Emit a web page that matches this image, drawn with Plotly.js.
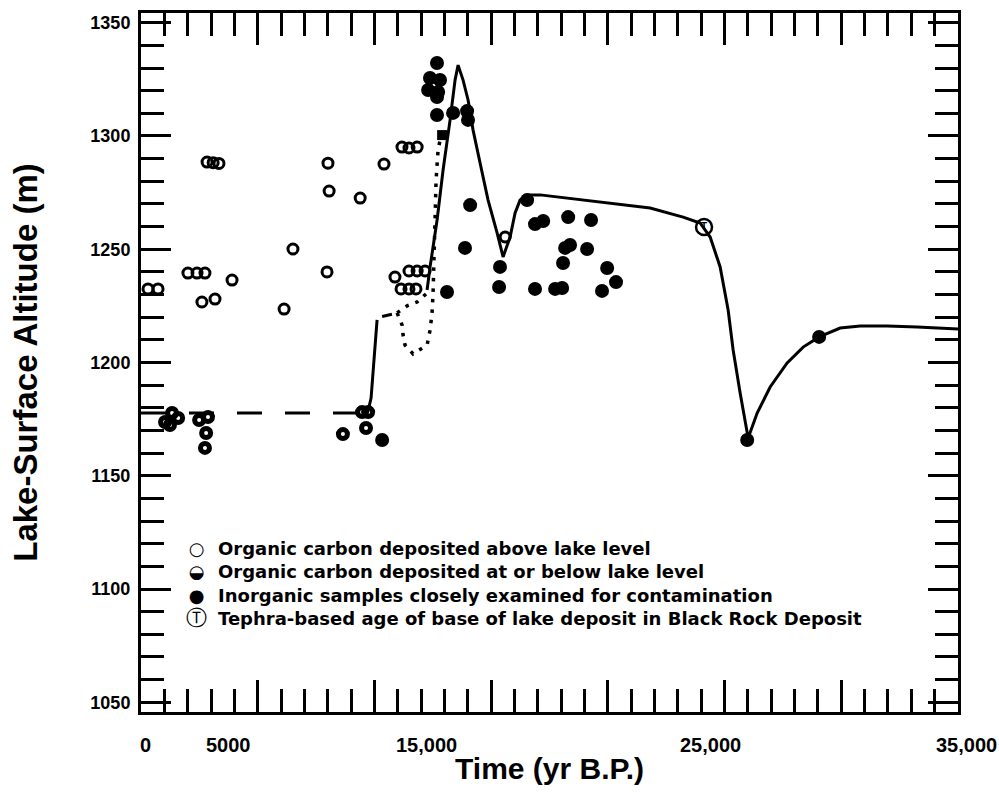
<!DOCTYPE html>
<html>
<head>
<meta charset="utf-8">
<script src="https://cdn.plot.ly/plotly-3.0.1.min.js"></script>
<style>html,body{margin:0;padding:0;background:#fff;}#chart{width:999px;height:806px;}</style>
</head>
<body>
<div id="chart"></div>
<script>
// ---- Data (years B.P., lake-surface altitude m) ----
const organicAboveX = [300, 730, 2010, 2400, 2740, 2610, 3170, 3900, 2830, 3090, 3340, 8010, 8060, 9390, 10410, 11180, 11480, 11830, 6510, 6130, 7970, 10880, 11480, 11830, 12170, 11140, 11480, 11780, 15600];
const organicAboveY = [1232.5, 1232.5, 1239.5, 1239.5, 1239.5, 1226.7, 1228, 1236.4, 1288.5, 1288.2, 1287.9, 1288, 1275.7, 1272.6, 1287.6, 1295.1, 1294.7, 1295.1, 1250.1, 1223.6, 1240, 1237.7, 1240.4, 1240.4, 1240.4, 1232.5, 1232.5, 1232.5, 1255.4];

const organicBelowX = [1030, 1330, 1590, 1240, 2490, 2870, 2790, 2740, 8650, 9470, 9730, 9640];
const organicBelowY = [1173.7, 1177.7, 1175.5, 1172.4, 1174.6, 1175.9, 1168.9, 1162.3, 1168.4, 1178.1, 1178.1, 1171.1];

const inorganicX = [12680, 12380, 12810, 12300, 12730, 12680, 12680, 13370, 13970, 14010, 14100, 13880, 13110, 16540, 16880, 17230, 18300, 19280, 18170, 18380, 19110, 18080, 19970, 20350, 15380, 15340, 16880, 17740, 18040, 19750, 10330, 25970, 29050];
const inorganicY = [1332.2, 1325.6, 1324.7, 1320.3, 1319.4, 1317.2, 1309.3, 1310.2, 1311.0, 1307.1, 1269.5, 1250.6, 1231.1, 1271.7, 1261.1, 1262.5, 1264.2, 1262.9, 1250.6, 1251.9, 1250.1, 1243.9, 1241.7, 1235.5, 1242.2, 1233.3, 1232.5, 1232.5, 1232.9, 1231.6, 1165.8, 1165.8, 1211.3];

const tephraX = [24120];
const tephraY = [1259.8];

const squareX = [12900];
const squareY = [1300.4];

// lake-level curves
const dashedX = [0, 9470];
const dashedY = [1177.7, 1177.7];
const stepX = [9470, 9727, 9856, 9941, 10027, 10113];
const stepY = [1177.7, 1178.6, 1184.3, 1194.5, 1207.7, 1218.8];
const shortX = [10330, 10750];
const shortY = [1220.3, 1221.3];
const dotAX = [10970, 11398, 11827, 12255];
const dotAY = [1221.9, 1225.0, 1226.7, 1230.7];
const dotBX = [10970, 11184, 11227, 11312, 11655, 12255, 12384, 12469, 12512, 12555, 12598, 12641, 12727, 12855];
const dotBY = [1221.9, 1216.6, 1212.1, 1207.7, 1203.8, 1207.7, 1214.3, 1221.9, 1230.7, 1245.3, 1262.9, 1280.6, 1293.8, 1300.4];
const curveX = [12255, 12384, 12684, 12941, 13241, 13455, 13584, 13798, 14012, 14226, 14526, 14869, 15255, 15512, 15812, 16026, 16240, 16583, 17097, 19668, 21811, 23225, 23953, 24382, 24810, 25153, 25367, 25667, 25967, 26010, 26396, 26953, 27681, 28367, 29053, 29952, 30809, 31966, 33252, 35000];
const curveY = [1232.0, 1242.2, 1262.9, 1285.0, 1307.1, 1324.7, 1331.3, 1324.7, 1315.9, 1302.6, 1288.1, 1271.7, 1257.2, 1246.6, 1255.4, 1266.0, 1271.7, 1274.0, 1274.0, 1270.9, 1268.2, 1264.2, 1261.6, 1255.4, 1242.2, 1223.2, 1205.5, 1186.5, 1168.9, 1166.7, 1177.7, 1189.2, 1199.8, 1206.8, 1211.3, 1215.2, 1216.1, 1216.1, 1215.7, 1214.8];

// tick labels
const xTickLabels = ['0', '5000', '15,000', '25,000', '35,000'];
const xTickPos = [0.005, 0.1065, 0.350, 0.6965, 1.011];
const yTickVals = [1050, 1100, 1150, 1200, 1250, 1300, 1350];

// legend
const legendNames = [
  'Organic carbon deposited above lake level',
  'Organic carbon deposited at or below lake level',
  'Inorganic samples closely examined for contamination',
  'Tephra-based age of base of lake deposit in Black Rock Deposit'
];
const legendGlyphs = ['\u25CB', '\u25D2', '\u25CF', '<span style="font-size:21px">\u24C9</span>'];

const FONT = 'Liberation Sans, Arial, sans-serif';
const LEGEND_FONT = 'DejaVu Sans, sans-serif';
const lineStyle = {color: '#000', width: 3};

const traces = [
  {x: dashedX, y: dashedY, mode: 'lines', line: {color: '#000', width: 3, dash: '25px,23px'}, showlegend: false, hoverinfo: 'skip'},
  {x: stepX, y: stepY, mode: 'lines', line: lineStyle, showlegend: false, hoverinfo: 'skip'},
  {x: shortX, y: shortY, mode: 'lines', line: lineStyle, showlegend: false, hoverinfo: 'skip'},
  {x: dotAX, y: dotAY, mode: 'lines', line: {color: '#000', width: 3.5, dash: '3.5px,7px'}, showlegend: false, hoverinfo: 'skip'},
  {x: dotBX, y: dotBY, mode: 'lines', line: {color: '#000', width: 3.5, dash: '3.5px,7px'}, showlegend: false, hoverinfo: 'skip'},
  {x: curveX, y: curveY, mode: 'lines', line: lineStyle, showlegend: false, hoverinfo: 'skip'},
  {x: squareX, y: squareY, mode: 'markers', marker: {symbol: 'square', size: 10, color: '#000'}, showlegend: false},
  {x: organicAboveX, y: organicAboveY, mode: 'markers', name: legendNames[0], showlegend: false,
   marker: {symbol: 'circle-open', size: 10, color: '#000', line: {width: 3, color: '#000'}}},
  {x: organicBelowX, y: organicBelowY, mode: 'markers', name: legendNames[1], showlegend: false,
   marker: {symbol: 'circle-open', size: 9, color: '#000', line: {width: 5, color: '#000'}}},
  {x: inorganicX, y: inorganicY, mode: 'markers', name: legendNames[2], showlegend: false,
   marker: {symbol: 'circle', size: 14, color: '#000'}},
  {x: tephraX, y: tephraY, mode: 'markers', name: legendNames[3], showlegend: false,
   marker: {symbol: 'circle-open', size: 16, color: '#000', line: {width: 2.5, color: '#000'}}},
  {x: tephraX, y: tephraY, mode: 'text', text: ['T'], textposition: 'middle center',
   textfont: {family: FONT, size: 10, color: '#000', weight: 'bold'}, showlegend: false, hoverinfo: 'skip'}
];

const annotations = [];
xTickLabels.forEach((t, i) => annotations.push({
  text: t, xref: 'paper', yref: 'paper', x: xTickPos[i], y: -0.047,
  xanchor: 'center', yanchor: 'middle', showarrow: false,
  font: {family: FONT, size: 20, color: '#000', weight: 'bold'}
}));
// legend as two multi-line text blocks (symbols column + labels column)
annotations.push({
  text: legendGlyphs.join('<br>'), xref: 'paper', yref: 'paper', x: 0.0685, y: 0.1838,
  xanchor: 'center', yanchor: 'middle', align: 'center', showarrow: false,
  font: {family: LEGEND_FONT, size: 18, color: '#000'}
});
annotations.push({
  text: legendNames.join('<br>'), xref: 'paper', yref: 'paper', x: 0.0920, y: 0.1838,
  xanchor: 'left', yanchor: 'middle', align: 'left', showarrow: false,
  font: {family: LEGEND_FONT, size: 18, color: '#000', weight: 'bold'}
});

const axisCommon = {
  showline: true, linecolor: '#000', linewidth: 3, mirror: 'ticks',
  ticks: 'inside', tickcolor: '#000', tickwidth: 3,
  showgrid: false, zeroline: false
};

const layout = {
  width: 999, height: 806,
  margin: {l: 141, r: 41, t: 13, b: 94},
  paper_bgcolor: '#fff', plot_bgcolor: '#fff',
  font: {family: FONT, color: '#000'},
  showlegend: false,
  xaxis: Object.assign({}, axisCommon, {
    range: [0, 35000], tickmode: 'linear', tick0: 0, dtick: 5000, ticklen: 32,
    showticklabels: false,
    minor: {dtick: 1000, ticklen: 23, tickwidth: 3, tickcolor: '#000', ticks: 'inside'},
    title: {text: 'Time (yr B.P.)', font: {family: FONT, size: 30, color: '#000', weight: 'bold'}, standoff: 44}
  }),
  yaxis: Object.assign({}, axisCommon, {
    range: [1045.7, 1354.3], tickmode: 'array', tickvals: yTickVals, ticklen: 30,
    tickfont: {family: FONT, size: 18, color: '#000', weight: 'bold'},
    ticklabelstandoff: 4,
    minor: {dtick: 10, tick0: 1050, ticklen: 23, tickwidth: 3, tickcolor: '#000', ticks: 'inside'},
    title: {text: 'Lake-Surface Altitude (m)', font: {family: FONT, size: 33, color: '#000', weight: 'bold'}, standoff: 43}
  }),
  annotations: annotations
};

Plotly.newPlot('chart', traces, layout, {displayModeBar: false, staticPlot: true});
</script>
</body>
</html>
